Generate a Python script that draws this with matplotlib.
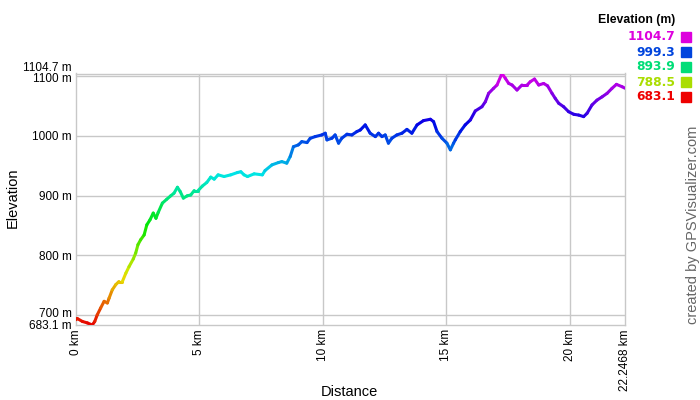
import numpy as np
import matplotlib
matplotlib.use("Agg")
import matplotlib.pyplot as plt
import matplotlib.transforms as mtransforms
from matplotlib.collections import LineCollection
from matplotlib.colors import hsv_to_rgb
from matplotlib.patches import Rectangle

plt.rcParams['font.family'] = ['Liberation Sans', 'DejaVu Sans']

# === data (km, m) ===
distance_km = [0.00, 0.05, 0.26, 0.46, 0.66, 0.76, 0.86, 1.00, 1.14, 1.27, 1.34,
               1.47, 1.61, 1.74, 1.88, 2.02, 2.15, 2.32, 2.42, 2.51, 2.62, 2.76,
               2.87, 3.00, 3.13, 3.24, 3.33, 3.50, 3.68, 3.84, 3.97, 4.11, 4.22,
               4.35, 4.51, 4.65, 4.79, 4.95, 5.12, 5.30, 5.46, 5.60, 5.76, 6.00,
               6.27, 6.54, 6.68, 6.81, 6.95, 7.22, 7.55, 7.66, 7.94, 8.20, 8.34,
               8.54, 8.68, 8.81, 9.01, 9.15, 9.36, 9.49, 9.69, 9.96, 10.10, 10.17,
               10.37, 10.50, 10.64, 10.77, 10.98, 11.18, 11.38, 11.52, 11.72,
               11.92, 12.13, 12.26, 12.40, 12.53, 12.66, 12.80, 13.00, 13.21,
               13.41, 13.61, 13.82, 14.08, 14.36, 14.49, 14.63, 14.83, 15.03,
               15.17, 15.30, 15.37, 15.57, 15.77, 15.98, 16.18, 16.45, 16.59,
               16.72, 16.92, 17.06, 17.26, 17.40, 17.53, 17.67, 17.87, 18.07,
               18.28, 18.41, 18.58, 18.75, 18.95, 19.11, 19.29, 19.42, 19.56,
               19.76, 19.96, 20.17, 20.37, 20.57, 20.71, 20.91, 21.11, 21.32,
               21.52, 21.72, 21.90, 22.13, 22.2468]
elevation_m = [692, 694, 689, 686.6, 683.1, 689, 700, 711.7, 722.8, 720, 728,
               742, 750.7, 756, 756, 770, 781, 793.7, 803.8, 817.7, 826, 834,
               851, 859.5, 870.7, 862, 871.7, 887.4, 894, 899.7, 904, 914, 907,
               895.8, 899.7, 901, 908.5, 908.5, 916, 922, 931, 927.6, 934.8, 932,
               934.8, 938.7, 940, 934.8, 932, 936.5, 934.8, 942, 951.5, 955.4, 957,
               954.4, 965.5, 982, 985, 990.5, 988.9, 996, 998.9, 1001.7, 1004.6,
               993.4, 996.2, 1001.7, 987.9, 996.2, 1002.9, 1001.7, 1007.3, 1010,
               1018.5, 1004.6, 998.9, 1004.6, 998.9, 1001.7, 987.9, 996.2, 1001.7,
               1004.6, 1011, 1004.6, 1018.5, 1025.7, 1028, 1024, 1007.3, 996.2,
               987.9, 976.7, 987.9, 993.4, 1007.3, 1018.5, 1026.8, 1041.9, 1049,
               1057.5, 1071.4, 1079.8, 1085.4, 1104.7, 1096.5, 1088.2, 1085.4,
               1077, 1085.4, 1085.4, 1091, 1095.4, 1085.4, 1088, 1084, 1071.4,
               1063, 1054.8, 1049, 1040.7, 1036.3, 1035, 1032.4, 1038, 1052, 1060,
               1065.6, 1071.4, 1079.8, 1086.5, 1082.5, 1080]

y_ticks = [700, 800, 900, 1000, 1100]
x_ticks = [0, 5, 10, 15, 20]
x_tick_labels = ['0 km', '5 km', '10 km', '15 km', '20 km']
e_min, e_max = 683.1, 1104.7
d_max = 22.2468
legend_values = [1104.7, 999.3, 893.9, 788.5, 683.1]
legend_colors = ['#dd00dd', '#0044dd', '#00dd77', '#aadd00', '#ee0000']


def elev_color(e):
    hue = (e - e_min) / (e_max - e_min) * 300.0 / 360.0
    return hsv_to_rgb((hue, 1.0, 0.9))


fig = plt.figure(figsize=(7, 4), dpi=100)
ax = fig.add_axes([76 / 700, 1 - 325 / 400, 549 / 700, 251.5 / 400])

x = np.array(distance_km)
y = np.array(elevation_m)
pts = np.column_stack([x, y]).reshape(-1, 1, 2)
segs = np.concatenate([pts[:-1], pts[1:]], axis=1)
cols = [elev_color((a + b) / 2) for a, b in zip(y[:-1], y[1:])]
lc = LineCollection(segs, colors=cols, linewidths=2.2, capstyle='round', zorder=3)
ax.add_collection(lc)

ax.set_xlim(0, d_max)
ax.set_ylim(e_min, e_max)

ax.set_xticks(x_ticks + [d_max])
ax.set_xticklabels(x_tick_labels + ['22.2468 km'], rotation=90, fontsize=8.5)
ax.set_yticks([e_min] + y_ticks + [e_max])
ax.set_yticklabels(['683.1 m'] + [f'{v} m' for v in y_ticks] + ['1104.7 m'], fontsize=8.5)
ax.tick_params(length=0, pad=3)

# nudge the crowded end labels apart like the original
shifts = {0: 0.5, 1: 2, 5: -1, 6: 7}
for i, lab in enumerate(ax.get_yticklabels()):
    if i in shifts:
        off = mtransforms.ScaledTranslation(0, shifts[i] / 100, fig.dpi_scale_trans)
        lab.set_transform(lab.get_transform() + off)

for v in y_ticks:
    ax.axhline(v, color='#c8c8c8', lw=1, zorder=1)
for v in x_ticks[1:]:
    ax.axvline(v, color='#c8c8c8', lw=1, zorder=1)
for s in ax.spines.values():
    s.set_color('#c8c8c8')
    s.set_linewidth(1)

fig.text(349 / 700, 1 - 392 / 400, 'Distance', fontsize=10.5, ha='center', va='center')
fig.text(13 / 700, 1 - 198 / 400, 'Elevation', fontsize=10.5, rotation=90,
         ha='center', va='center')

# legend block top right
fig.text(675 / 700, 1 - 20 / 400, 'Elevation (m)', fontsize=8.8, fontweight='bold',
         ha='right', va='center')
for i, (v, c) in enumerate(zip(legend_values, legend_colors)):
    yy = 37 + i * 15
    fig.text(675 / 700, 1 - yy / 400, f'{v}', fontsize=8.8, fontweight='bold',
             color=c, ha='right', va='center', family='DejaVu Sans')
    fig.patches.append(Rectangle((681 / 700, 1 - (yy + 5) / 400), 10 / 700, 10 / 400,
                                 transform=fig.transFigure, color=c, figure=fig))

fig.text(693 / 700, 1 - 225 / 400, 'created by GPSVisualizer.com', rotation=90,
         fontsize=10.5, color='#666666', ha='center', va='center')

plt.savefig('out.png', dpi=100)
